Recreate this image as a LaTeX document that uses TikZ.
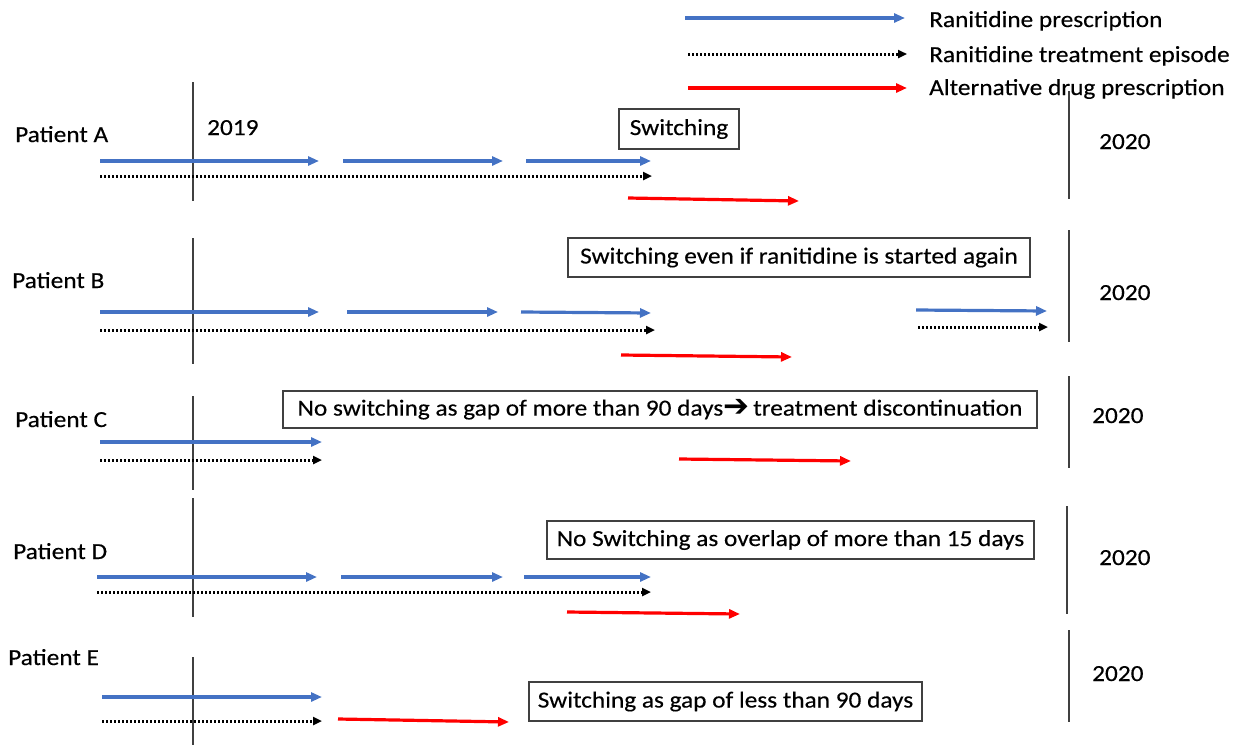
\documentclass[tikz,border=0pt]{standalone}
\usepackage{fontspec}
\setmainfont{Carlito}[FakeStretch=1.1,FakeBold=0.3]
\newfontfamily\symfnt{DejaVu Sans Bold}
\usetikzlibrary{arrows.meta}
\definecolor{rxblue}{HTML}{4472C4}
\definecolor{rxred}{HTML}{FF0000}
\definecolor{axisgray}{HTML}{404040}
\tikzset{
  rx/.style={draw=rxblue, line width=3.2pt, -{Triangle[length=11pt,width=9pt]}},
  alt/.style={draw=rxred, line width=3.2pt, -{Triangle[length=11pt,width=9pt]}},
  episode/.style={draw=black, line width=3pt, dash pattern=on 2pt off 2pt, -{Triangle[length=9pt,width=8pt]}},
  yearline/.style={draw=axisgray, line width=1.5pt},
  lbl/.style={inner sep=0pt, anchor=base west, font=\fontsize{23}{27}\selectfont},
  notebox/.style={draw=axisgray, line width=1.4pt, inner sep=0pt, font=\fontsize{23}{27}\selectfont, text=black}
}
\begin{document}
\begin{tikzpicture}[x=1pt,y=-1pt]
\useasboundingbox (0,0) rectangle (1236,745);
\fill[white] (0,0) rectangle (1236,745);
% legend
\coordinate (l1a) at (685,18); \coordinate (l1b) at (905,18);
\coordinate (l2a) at (688,54); \coordinate (l2b) at (907,54);
\coordinate (l3a) at (688,88); \coordinate (l3b) at (907,88);
\draw[rx] (l1a) -- (l1b);
\draw[episode] (l2a) -- (l2b);
\draw[alt] (l3a) -- (l3b);
\node[lbl] (leg1) at (929,27) {Ranitidine prescription};
\node[lbl] (leg2) at (929,62) {Ranitidine treatment episode};
\node[lbl] (leg3) at (929,95) {Alternative drug prescription};

% Patient A
\node[lbl] (pA) at (15,142) {Patient A};
\coordinate (yA1) at (193,82); \coordinate (yA2) at (193,201);
\draw[yearline] (yA1) -- (yA2);
\node[lbl] (y2019) at (207,135) {2019};
\coordinate (A1a) at (100,161); \coordinate (A1b) at (319,161);
\coordinate (A2a) at (343,161); \coordinate (A2b) at (503,161);
\coordinate (A3a) at (526,161); \coordinate (A3b) at (651,161);
\draw[rx] (A1a) -- (A1b); \draw[rx] (A2a) -- (A2b); \draw[rx] (A3a) -- (A3b);
\coordinate (AEa) at (100,176); \coordinate (AEb) at (652,176);
\draw[episode] (AEa) -- (AEb);
\coordinate (ARa) at (628,198); \coordinate (ARb) at (799,201);
\draw[alt] (ARa) -- (ARb);
\node[notebox, minimum width=120pt, minimum height=40pt] (nA) at (679,129) {Switching};
\coordinate (zA1) at (1069,91); \coordinate (zA2) at (1069,199);
\draw[yearline] (zA1) -- (zA2);
\node[lbl] (tA) at (1099,149) {2020};

% Patient B
\node[lbl] (pB) at (12,288) {Patient B};
\coordinate (yB1) at (193,238); \coordinate (yB2) at (193,364);
\draw[yearline] (yB1) -- (yB2);
\coordinate (B1a) at (100,312); \coordinate (B1b) at (319,312);
\coordinate (B2a) at (347,312); \coordinate (B2b) at (498,312);
\coordinate (B3a) at (521,312); \coordinate (B3b) at (651,313);
\draw[rx] (B1a) -- (B1b); \draw[rx] (B2a) -- (B2b); \draw[rx] (B3a) -- (B3b);
\coordinate (BEa) at (100,330); \coordinate (BEb) at (655,330);
\draw[episode] (BEa) -- (BEb);
\coordinate (BRa) at (621,355); \coordinate (BRb) at (792,357);
\draw[alt] (BRa) -- (BRb);
\coordinate (B4a) at (916,310); \coordinate (B4b) at (1047,311);
\draw[rx] (B4a) -- (B4b);
\coordinate (BE2a) at (918,327); \coordinate (BE2b) at (1048,327);
\draw[episode] (BE2a) -- (BE2b);
\node[notebox, minimum width=462pt, minimum height=39pt] (nB) at (799,257.5) {Switching even if ranitidine is started again};
\coordinate (zB1) at (1069,230); \coordinate (zB2) at (1069,342);
\draw[yearline] (zB1) -- (zB2);
\node[lbl] (tB) at (1099,300) {2020};

% Patient C
\node[lbl] (pC) at (15,427) {Patient C};
\coordinate (yC1) at (193,396); \coordinate (yC2) at (193,490);
\draw[yearline] (yC1) -- (yC2);
\coordinate (C1a) at (100,442); \coordinate (C1b) at (322,442);
\draw[rx] (C1a) -- (C1b);
\coordinate (CEa) at (100,460); \coordinate (CEb) at (322,460);
\draw[episode] (CEa) -- (CEb);
\coordinate (CRa) at (679,459); \coordinate (CRb) at (851,461);
\draw[alt] (CRa) -- (CRb);
\node[notebox, minimum width=754pt, minimum height=37pt] (nC) at (660,409.5) {No switching as gap of more than 90 days{\symfnt\fontsize{31}{31}\selectfont\raisebox{-1pt}{\char"2794}}\hspace{4pt}treatment discontinuation};
\coordinate (zC1) at (1069,376); \coordinate (zC2) at (1069,468);
\draw[yearline] (zC1) -- (zC2);
\node[lbl] (tC) at (1092,423) {2020};

% Patient D
\node[lbl] (pD) at (13,559) {Patient D};
\coordinate (yD1) at (193,498); \coordinate (yD2) at (193,617);
\draw[yearline] (yD1) -- (yD2);
\coordinate (D1a) at (97,577); \coordinate (D1b) at (317,577);
\coordinate (D2a) at (341,577); \coordinate (D2b) at (503,577);
\coordinate (D3a) at (524,577); \coordinate (D3b) at (651,577);
\draw[rx] (D1a) -- (D1b); \draw[rx] (D2a) -- (D2b); \draw[rx] (D3a) -- (D3b);
\coordinate (DEa) at (97,592); \coordinate (DEb) at (651,592);
\draw[episode] (DEa) -- (DEb);
\coordinate (DRa) at (567,612); \coordinate (DRb) at (740,614);
\draw[alt] (DRa) -- (DRb);
\node[notebox, minimum width=487pt, minimum height=38pt] (nD) at (790.5,540) {No Switching as overlap of more than 15 days};
\coordinate (zD1) at (1067,506); \coordinate (zD2) at (1067,614);
\draw[yearline] (zD1) -- (zD2);
\node[lbl] (tD) at (1099,565) {2020};

% Patient E
\node[lbl] (pE) at (8,665) {Patient E};
\coordinate (yE1) at (193,657); \coordinate (yE2) at (193,745);
\draw[yearline] (yE1) -- (yE2);
\coordinate (E1a) at (102,697); \coordinate (E1b) at (322,697);
\draw[rx] (E1a) -- (E1b);
\coordinate (EEa) at (102,721); \coordinate (EEb) at (322,721);
\draw[episode] (EEa) -- (EEb);
\coordinate (ERa) at (338,719); \coordinate (ERb) at (509,722);
\draw[alt] (ERa) -- (ERb);
\node[notebox, minimum width=393pt, minimum height=39pt] (nE) at (725.5,701.5) {Switching as gap of less than 90 days};
\coordinate (zE1) at (1069,630); \coordinate (zE2) at (1069,722);
\draw[yearline] (zE1) -- (zE2);
\node[lbl] (tE) at (1092,681) {2020};
\end{tikzpicture}
\end{document}
